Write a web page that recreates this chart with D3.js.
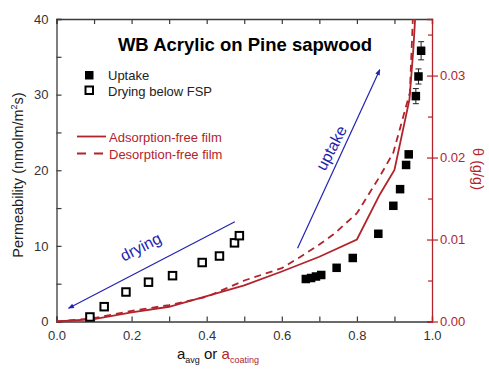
<!DOCTYPE html>
<html>
<head>
<meta charset="utf-8">
<script src="https://cdn.jsdelivr.net/npm/d3@7"></script>
<style>
  body { margin: 0; background: #fff; }
  svg { font-family: "Liberation Sans", Arial, sans-serif; }
</style>
</head>
<body>
<svg id="chart" width="489" height="369"></svg>
<script>
const uptakeA = [0.664, 0.678, 0.691, 0.705, 0.746, 0.789, 0.857, 0.897, 0.915, 0.931, 0.938, 0.957, 0.964, 0.971]
const uptakeP = [5.62, 5.75, 5.95, 6.15, 7.1, 8.4, 11.6, 15.3, 17.5, 20.7, 22.1, 29.8, 32.4, 35.8]
const uptakeErr = [0, 0, 0, 0, 0, 0, 0, 0, 0, 0.3, 0.4, 1.0, 1.0, 1.2]

const dryingA = [0.089, 0.127, 0.185, 0.245, 0.309, 0.388, 0.434, 0.474, 0.487]
const dryingP = [0.6, 1.96, 3.9, 5.2, 6.06, 7.8, 8.66, 10.4, 11.35]

// model curves, theta on right axis
const adsA = [0, 0.1, 0.2, 0.3, 0.4, 0.5, 0.6, 0.7, 0.8, 0.861, 0.9, 0.94, 0.95, 0.955]
const adsTheta = [0, 0.0003, 0.0011, 0.0018, 0.0031, 0.0044, 0.0061, 0.0079, 0.0100, 0.0155, 0.0185, 0.0271, 0.0330, 0.0369]
const desA = [0, 0.1, 0.2, 0.3, 0.4, 0.5, 0.6, 0.65, 0.7, 0.737, 0.8, 0.861, 0.897, 0.941, 0.949]
const desTheta = [0, 0.0004, 0.0013, 0.0020, 0.0030, 0.0050, 0.0065, 0.0079, 0.0094, 0.0106, 0.0132, 0.0177, 0.0206, 0.0279, 0.0369]

const xTicks = [0, 0.2, 0.4, 0.6, 0.8, 1.0]
const yTicks = [0, 10, 20, 30, 40]
const thetaTicks = [0, 0.01, 0.02, 0.03]

const red = "#b3232b"
const blue = "#2323b0"
const axisGray = "#3a3a3a"

const svg = d3.select("#chart")
const margin = { top: 19, right: 57, bottom: 47.5, left: 56.5 }
const width = +svg.attr("width") - margin.left - margin.right
const height = +svg.attr("height") - margin.top - margin.bottom
const g = svg.append("g").attr("transform", `translate(${margin.left},${margin.top})`)

const x = d3.scaleLinear().domain([0, 1]).range([0, width])
const y = d3.scaleLinear().domain([0, 40]).range([height, 0])
const yTheta = d3.scaleLinear().domain([0, 0.0369]).range([height, 0])

// arrow marker
const defs = svg.append("defs")
defs.append("marker")
  .attr("id", "arrow")
  .attr("viewBox", "0 0 10 10")
  .attr("refX", 9).attr("refY", 5)
  .attr("markerWidth", 7).attr("markerHeight", 6)
  .attr("markerUnits", "userSpaceOnUse")
  .attr("orient", "auto")
  .append("path")
  .attr("d", "M0,1 L10,5 L0,9 Z")
  .attr("fill", blue)

// bottom axis
const xAxis = g.append("g").attr("transform", `translate(0,${height})`)
  .call(d3.axisBottom(x).tickValues(d3.range(0, 1.01, 0.1)).tickSize(-5).tickPadding(9)
    .tickFormat((d) => xTicks.some((t) => Math.abs(t - d) < 1e-6) ? d3.format(".1f")(d) : ""))
// top axis
const xTop = g.append("g")
  .call(d3.axisTop(x).tickValues(d3.range(0, 1.01, 0.1)).tickSize(-5).tickFormat(""))
// left axis
const yAxis = g.append("g")
  .call(d3.axisLeft(y).tickValues(d3.range(0, 40.1, 5)).tickSize(-5).tickPadding(8)
    .tickFormat((d) => yTicks.includes(d) ? d : ""))
// right axis
const yRight = g.append("g").attr("transform", `translate(${width},0)`)
  .call(d3.axisRight(yTheta).tickValues(d3.range(0, 0.0361, 0.005)).tickSize(-5).tickPadding(8)
    .tickFormat((d) => thetaTicks.some((t) => Math.abs(t - d) < 1e-9) ? d3.format(".2f")(d) : ""))

for (const ax of [xAxis, xTop, yAxis]) {
  ax.select(".domain").attr("stroke", axisGray).attr("stroke-width", 1.3)
  ax.selectAll(".tick line").attr("stroke", axisGray).attr("stroke-width", 1.2)
  ax.selectAll(".tick text").attr("fill", "#333").attr("font-size", 13)
}
yRight.select(".domain").attr("stroke", red).attr("stroke-width", 1.3)
yRight.selectAll(".tick line").attr("stroke", red).attr("stroke-width", 1.2)
  .attr("x2", (d) => thetaTicks.some((t) => Math.abs(t - d) < 1e-9) ? 6 : -4)
  .attr("x1", (d) => thetaTicks.some((t) => Math.abs(t - d) < 1e-9) ? -5 : 0)
yRight.selectAll(".tick text").attr("fill", red).attr("font-size", 13)

// model curves
const line = d3.line().x((d) => x(d[0])).y((d) => yTheta(d[1]))
g.append("path")
  .datum(adsA.map((a, i) => [a, adsTheta[i]]))
  .attr("d", line).attr("fill", "none").attr("stroke", red).attr("stroke-width", 1.8)
g.append("path")
  .datum(desA.map((a, i) => [a, desTheta[i]]))
  .attr("d", line).attr("fill", "none").attr("stroke", red).attr("stroke-width", 1.8)
  .attr("stroke-dasharray", "7,5")

// arrows
const arrows = [
  { from: [0.475, 13.2], to: [0.032, 1.75] },
  { from: [0.642, 9.7], to: [0.861, 33.3] },
]
g.selectAll(".arrow").data(arrows).enter().append("line")
  .attr("x1", (d) => x(d.from[0])).attr("y1", (d) => y(d.from[1]))
  .attr("x2", (d) => x(d.to[0])).attr("y2", (d) => y(d.to[1]))
  .attr("stroke", blue).attr("stroke-width", 1.2)
  .attr("marker-end", "url(#arrow)")

g.append("text").attr("transform", `translate(${x(0.231)},${y(9.2)}) rotate(-27)`)
  .attr("text-anchor", "middle").attr("fill", blue).attr("font-size", 16).text("drying")
g.append("text").attr("transform", `translate(${x(0.745)},${y(22.6)}) rotate(-62)`)
  .attr("text-anchor", "middle").attr("fill", blue).attr("font-size", 16).text("uptake")

// error bars
const errData = uptakeA.map((a, i) => ({ a, p: uptakeP[i], e: uptakeErr[i] })).filter((d) => d.e > 0)
const eb = g.selectAll(".err").data(errData).enter().append("g").attr("stroke", "#222").attr("stroke-width", 1)
eb.append("line").attr("x1", (d) => x(d.a)).attr("x2", (d) => x(d.a))
  .attr("y1", (d) => y(d.p - d.e)).attr("y2", (d) => y(d.p + d.e))
eb.append("line").attr("x1", (d) => x(d.a) - 3).attr("x2", (d) => x(d.a) + 3)
  .attr("y1", (d) => y(d.p - d.e)).attr("y2", (d) => y(d.p - d.e))
eb.append("line").attr("x1", (d) => x(d.a) - 3).attr("x2", (d) => x(d.a) + 3)
  .attr("y1", (d) => y(d.p + d.e)).attr("y2", (d) => y(d.p + d.e))

// points
const s = 8.5
g.selectAll(".up").data(uptakeA).enter().append("rect")
  .attr("x", (d) => x(d) - s / 2).attr("y", (d, i) => y(uptakeP[i]) - s / 2)
  .attr("width", s).attr("height", s).attr("fill", "#000")
const so = 7.5
g.selectAll(".dry").data(dryingA).enter().append("rect")
  .attr("x", (d) => x(d) - so / 2).attr("y", (d, i) => y(dryingP[i]) - so / 2)
  .attr("width", so).attr("height", so).attr("fill", "#fff").attr("stroke", "#000").attr("stroke-width", 2)

// title
svg.append("text").attr("x", 245).attr("y", 51).attr("text-anchor", "middle")
  .attr("font-size", 18.5).attr("font-weight", "bold").attr("fill", "#000")
  .text("WB Acrylic on Pine sapwood")

// legend
const leg = svg.append("g")
leg.append("rect").attr("x", 85).attr("y", 71).attr("width", 8.5).attr("height", 8.5).attr("fill", "#000")
leg.append("text").attr("x", 108).attr("y", 80).attr("font-size", 13).attr("fill", "#222").text("Uptake")
leg.append("rect").attr("x", 85.5).attr("y", 86.5).attr("width", 7.5).attr("height", 7.5)
  .attr("fill", "#fff").attr("stroke", "#000").attr("stroke-width", 2)
leg.append("text").attr("x", 108).attr("y", 95.5).attr("font-size", 13).attr("fill", "#222").text("Drying below FSP")
leg.append("line").attr("x1", 77).attr("x2", 106).attr("y1", 136.5).attr("y2", 136.5)
  .attr("stroke", red).attr("stroke-width", 1.8)
leg.append("text").attr("x", 109).attr("y", 141.5).attr("font-size", 13).attr("fill", red).text("Adsorption-free film")
leg.append("line").attr("x1", 77).attr("x2", 106).attr("y1", 153.5).attr("y2", 153.5)
  .attr("stroke", red).attr("stroke-width", 1.8).attr("stroke-dasharray", "9,8")
leg.append("text").attr("x", 109).attr("y", 158.5).attr("font-size", 13).attr("fill", red).text("Desorption-free film")

// axis titles
const yl = svg.append("text").attr("transform", "translate(23,175) rotate(-90)")
  .attr("text-anchor", "middle").attr("font-size", 14.5).attr("fill", "#222")
yl.append("tspan").text("Permeability (nmolm/m")
yl.append("tspan").attr("font-size", 9).attr("dy", -6).text("2")
yl.append("tspan").attr("dy", 6).text("s)")

svg.append("text").attr("transform", "translate(473,169) rotate(90)")
  .attr("text-anchor", "middle").attr("font-size", 14.5).attr("fill", red).text("θ (g/g)")

const xl = svg.append("text").attr("x", 177).attr("y", 359).attr("font-size", 15).attr("fill", "#111")
xl.append("tspan").text("a")
xl.append("tspan").attr("font-size", 9).attr("dy", 4).text("avg")
xl.append("tspan").attr("dy", -4).text(" or ")
xl.append("tspan").attr("fill", red).text("a")
xl.append("tspan").attr("fill", red).attr("font-size", 9).attr("dy", 4).text("coating")
</script>
</body>
</html>
